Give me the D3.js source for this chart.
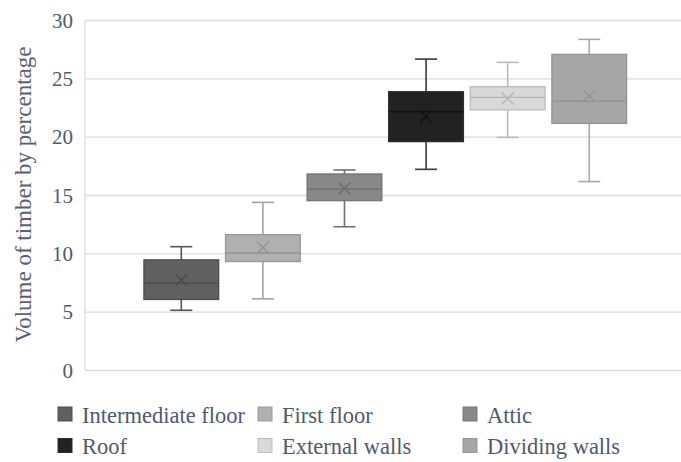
<!DOCTYPE html>
<html>
<head>
<meta charset="utf-8">
<script src="https://cdn.jsdelivr.net/npm/d3@7"></script>
<style>
  body { margin: 0; background: #ffffff; }
  text { font-family: "Liberation Serif", "Times New Roman", serif; }
</style>
</head>
<body>
<div id="chart"></div>
<script>
// Chart data
var series = ["Intermediate floor", "First floor", "Attic", "Roof", "External walls", "Dividing walls"];
var minVals = [5.12, 6.1, 12.28, 17.2, 19.94, 16.15];
var q1Vals = [6.05, 9.3, 14.52, 19.58, 22.3, 21.14];
var medianVals = [7.45, 10.03, 15.5, 22.13, 23.37, 23.03];
var q3Vals = [9.44, 11.6, 16.8, 23.85, 24.28, 27.05];
var maxVals = [10.57, 14.37, 17.14, 26.65, 26.37, 28.34];
var meanVals = [7.71, 10.51, 15.55, 21.7, 23.28, 23.51];
var yTicks = [0, 5, 10, 15, 20, 25, 30];

// Styles per series: fill, box outline, whisker, median/mean marker
var fills = ["#606060", "#b0b0b0", "#888888", "#222222", "#d9d9d9", "#a6a6a6"];
var strokes = ["#4f4f4f", "#999999", "#777777", "#2e2e2e", "#bdbdbd", "#959595"];
var whiskerColors = ["#555555", "#a3a3a3", "#707070", "#3a3a3a", "#bbbbbb", "#a9a9a9"];
var markColors = ["#4a4a4a", "#959595", "#6c6c6c", "#111111", "#b5b5b5", "#939393"];

var svgWidth = 681;
var svgHeight = 462;

var plot = { left: 85, right: 681, top: 20, bottom: 370 };

var svg = d3.select("#chart")
  .append("svg")
  .attr("width", svgWidth)
  .attr("height", svgHeight);

var boxes = series.map(function(name, i) {
  return {
    name: name, min: minVals[i], q1: q1Vals[i], median: medianVals[i],
    q3: q3Vals[i], max: maxVals[i], mean: meanVals[i], i: i
  };
});

// Scales
var xScale = d3.scaleBand()
  .domain(series)
  .range([plot.left, plot.right])
  .paddingInner(0.085)
  .paddingOuter(0.695)
  .align(0.52);

var yScale = d3.scaleLinear()
  .domain([0, 30])
  .range([plot.bottom, plot.top]);

// Gridlines + tick labels
var leftAxis = d3.axisLeft(yScale)
  .tickValues(yTicks)
  .tickSize(-(plot.right - plot.left))
  .tickPadding(12);

var yAxisG = svg.append("g")
  .attr("transform", `translate(${plot.left}, 0)`)
  .call(leftAxis);

yAxisG.select(".domain").remove();
yAxisG.selectAll(".tick line")
  .attr("stroke", "#dcdcdc")
  .attr("stroke-width", 1.3);
yAxisG.selectAll(".tick text")
  .attr("fill", "#4f5a6b")
  .style("font-size", "21px")
  .attr("dy", "0.34em");

// Left vertical line of the plot area
svg.append("line")
  .attr("x1", plot.left).attr("x2", plot.left)
  .attr("y1", yScale(30)).attr("y2", yScale(0))
  .attr("stroke", "#dcdcdc")
  .attr("stroke-width", 1.3);

// Axis title
svg.append("text")
  .attr("transform", `translate(31, 194.5) rotate(-90)`)
  .attr("text-anchor", "middle")
  .attr("fill", "#596170")
  .style("font-size", "23px")
  .text("Volume of timber by percentage");

// Boxes
var boxG = svg.append("g")
  .selectAll("g")
  .data(boxes)
  .enter()
  .append("g");

var capHalf = 11;

// whiskers
boxG.append("line")
  .attr("x1", d => xScale(d.name) + xScale.bandwidth() / 2)
  .attr("x2", d => xScale(d.name) + xScale.bandwidth() / 2)
  .attr("y1", d => yScale(d.max))
  .attr("y2", d => yScale(d.min))
  .attr("stroke", d => whiskerColors[d.i])
  .attr("stroke-width", 1.6);

boxG.selectAll(".cap")
  .data(d => [{ v: d.max, d: d }, { v: d.min, d: d }])
  .enter()
  .append("line")
  .attr("class", "cap")
  .attr("x1", c => xScale(c.d.name) + xScale.bandwidth() / 2 - capHalf)
  .attr("x2", c => xScale(c.d.name) + xScale.bandwidth() / 2 + capHalf)
  .attr("y1", c => yScale(c.v))
  .attr("y2", c => yScale(c.v))
  .attr("stroke", c => whiskerColors[c.d.i])
  .attr("stroke-width", 1.6);

// box body
boxG.append("rect")
  .attr("x", d => xScale(d.name))
  .attr("y", d => yScale(d.q3))
  .attr("width", xScale.bandwidth())
  .attr("height", d => yScale(d.q1) - yScale(d.q3))
  .attr("fill", d => fills[d.i])
  .attr("stroke", d => strokes[d.i])
  .attr("stroke-width", 1.4);

// median
boxG.append("line")
  .attr("x1", d => xScale(d.name))
  .attr("x2", d => xScale(d.name) + xScale.bandwidth())
  .attr("y1", d => yScale(d.median))
  .attr("y2", d => yScale(d.median))
  .attr("stroke", d => markColors[d.i])
  .attr("stroke-width", 1.4);

// mean marker (x)
var xs = 6;
boxG.append("path")
  .attr("d", function(d) {
    var cx = xScale(d.name) + xScale.bandwidth() / 2;
    var cy = yScale(d.mean);
    return `M${cx - xs},${cy - xs}L${cx + xs},${cy + xs}M${cx - xs},${cy + xs}L${cx + xs},${cy - xs}`;
  })
  .attr("stroke", d => markColors[d.i])
  .attr("stroke-width", 1.4)
  .attr("fill", "none");

// Legend (3 columns x 2 rows)
var legendCols = [58, 258, 463];
var legendRows = [407, 438.5];

var legend = svg.append("g")
  .selectAll("g")
  .data(boxes)
  .enter()
  .append("g")
  .attr("transform", d => `translate(${legendCols[d.i % 3]}, ${legendRows[Math.floor(d.i / 3)]})`);

legend.append("rect")
  .attr("width", 14)
  .attr("height", 14)
  .attr("fill", d => fills[d.i])
  .attr("stroke", d => strokes[d.i])
  .attr("stroke-width", 1);

legend.append("text")
  .attr("x", 24)
  .attr("y", 15.8)
  .attr("fill", "#4f5a6b")
  .style("font-size", "22.5px")
  .text(d => d.name);
</script>
</body>
</html>
